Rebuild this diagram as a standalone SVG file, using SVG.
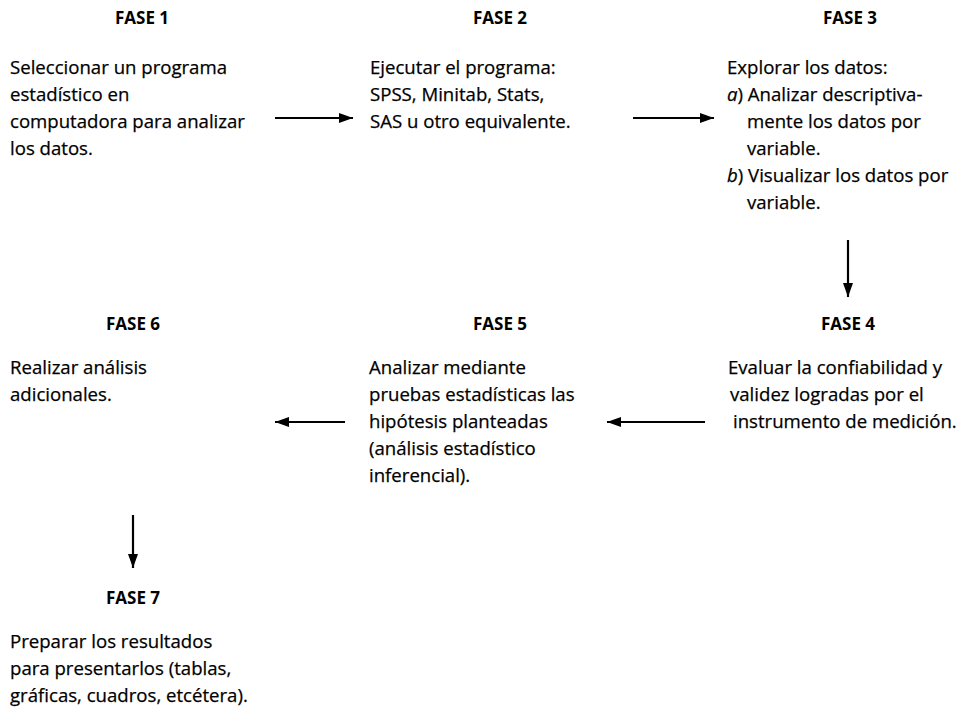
<svg xmlns="http://www.w3.org/2000/svg" width="964" height="708" viewBox="0 0 964 708">
<style>
.h{font-family:"Open Sans","Liberation Sans",sans-serif;font-weight:bold;font-size:17px;fill:#000;text-anchor:middle}
.t{font-family:"Open Sans","Liberation Sans",sans-serif;font-size:18.6px;fill:#000;stroke:#000;stroke-width:0.25}
.i{font-style:italic}
.c{stroke:#000;stroke-width:2.2;fill:none}
</style>
<defs>
<marker id="ah" viewBox="0 0 14 10" refX="14" refY="5" markerWidth="14" markerHeight="10" markerUnits="userSpaceOnUse" orient="auto">
<path d="M0,0 L14,5 L0,10 Z" fill="#000"/>
</marker>
</defs>
<rect width="964" height="708" fill="#fff"/>
<g id="fase1">
<text class="h" x="142" y="24">FASE 1</text>
<text class="t" x="10" y="74">Seleccionar un programa</text>
<text class="t" x="10" y="101">estadístico en</text>
<text class="t" x="10" y="128">computadora para analizar</text>
<text class="t" x="10" y="155">los datos.</text>
</g>
<g id="fase2">
<text class="h" x="500" y="24">FASE 2</text>
<text class="t" x="370" y="74">Ejecutar el programa:</text>
<text class="t" x="370" y="101">SPSS, Minitab, Stats,</text>
<text class="t" x="370" y="128">SAS u otro equivalente.</text>
</g>
<g id="fase3">
<text class="h" x="850" y="24">FASE 3</text>
<text class="t" x="727" y="74">Explorar los datos:</text>
<text class="t" x="727" y="101"><tspan class="i">a</tspan>) Analizar descriptiva-</text>
<text class="t" x="747" y="128">mente los datos por</text>
<text class="t" x="747" y="155">variable.</text>
<text class="t" x="727" y="182"><tspan class="i">b</tspan>) Visualizar los datos por</text>
<text class="t" x="747" y="209">variable.</text>
</g>
<g id="fase4">
<text class="h" x="848" y="330">FASE 4</text>
<text class="t" x="728" y="374">Evaluar la confiabilidad y</text>
<text class="t" x="730" y="401">validez logradas por el</text>
<text class="t" x="733" y="428">instrumento de medición.</text>
</g>
<g id="fase5">
<text class="h" x="500" y="330">FASE 5</text>
<text class="t" x="369" y="374">Analizar mediante</text>
<text class="t" x="369" y="401">pruebas estadísticas las</text>
<text class="t" x="369" y="428">hipótesis planteadas</text>
<text class="t" x="369" y="455">(análisis estadístico</text>
<text class="t" x="369" y="482">inferencial).</text>
</g>
<g id="fase6">
<text class="h" x="133" y="330">FASE 6</text>
<text class="t" x="10" y="374">Realizar análisis</text>
<text class="t" x="10" y="401">adicionales.</text>
</g>
<g id="fase7">
<text class="h" x="133" y="604">FASE 7</text>
<text class="t" x="10" y="648">Preparar los resultados</text>
<text class="t" x="10" y="675">para presentarlos (tablas,</text>
<text class="t" x="10" y="702">gráficas, cuadros, etcétera).</text>
</g>
<g id="connectors">
<line class="c" x1="275" y1="118" x2="353" y2="118" marker-end="url(#ah)"/>
<line class="c" x1="633" y1="118" x2="714" y2="118" marker-end="url(#ah)"/>
<line class="c" x1="848" y1="240" x2="848" y2="297" marker-end="url(#ah)"/>
<line class="c" x1="705" y1="422" x2="607" y2="422" marker-end="url(#ah)"/>
<line class="c" x1="345" y1="422" x2="275" y2="422" marker-end="url(#ah)"/>
<line class="c" x1="133" y1="515" x2="133" y2="568" marker-end="url(#ah)"/>
</g>
</svg>
